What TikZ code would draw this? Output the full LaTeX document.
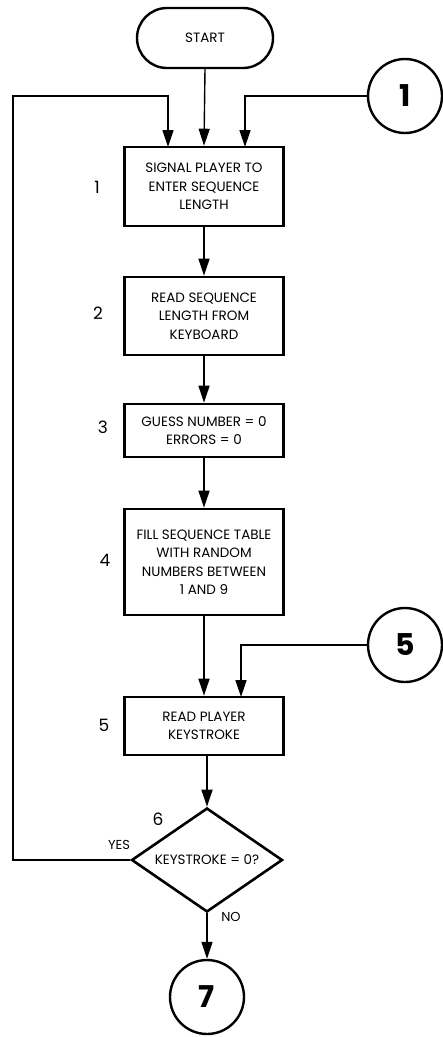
\documentclass[tikz,border=0pt]{standalone}
\usepackage{fontspec}
\setmainfont{Poppins}
\usetikzlibrary{arrows.meta,shapes.geometric,shapes.misc,calc}
\begin{document}
\begin{tikzpicture}[x=1pt,y=-1pt,
  txt/.style={font=\fontsize{13.5}{18.5}\selectfont, align=center},
  procbox/.style={draw, line width=2.6pt, minimum width=159pt, inner sep=0pt, txt},
  conn/.style={draw, circle, line width=2.4pt, minimum size=74pt, inner sep=0pt, font=\fontsize{30}{30}\selectfont\bfseries},
  lbl/.style={font=\fontsize{17}{17}\selectfont, inner sep=0pt},
  small/.style={font=\fontsize{13}{13}\selectfont, inner sep=0pt},
  arr/.style={line width=1.4pt, -{Triangle[length=17pt,width=11pt]}},
  ln/.style={line width=1.4pt}
]
\useasboundingbox (0,0) rectangle (443,1037);

\node[draw, rounded rectangle, line width=2.4pt, minimum width=136pt, minimum height=60pt, inner sep=0pt, txt] (start) at (205,38) {START};

\node[procbox, minimum height=79pt] (b1) at (204,186.5) {SIGNAL PLAYER TO\\ENTER SEQUENCE\\LENGTH};
\node[procbox, minimum height=78pt] (b2) at (204,316) {READ SEQUENCE\\LENGTH FROM\\KEYBOARD};
\node[procbox, minimum height=53pt] (b3) at (204,430.5) {GUESS NUMBER = 0\\ERRORS = 0};
\node[procbox, minimum height=106pt] (b4) at (204,562) {FILL SEQUENCE TABLE\\WITH RANDOM\\NUMBERS BETWEEN\\1 AND 9};
\node[procbox, minimum height=58pt] (b5) at (204,726) {READ PLAYER\\KEYSTROKE};
\node[draw, diamond, line width=2.6pt, aspect=1.45, minimum width=151pt, minimum height=104pt, inner sep=0pt, txt] (dec) at (207,860) {KEYSTROKE = 0?};

\node[conn] (c1) at (405,96) {1};
\node[conn] (c5) at (405,645) {5};
\node[conn] (c7) at (207,997) {7};

\node[lbl] (l1) at (97,187) {1};
\node[lbl] (l2) at (98,313) {2};
\node[lbl] (l3) at (103,427) {3};
\node[lbl] (l4) at (105,560) {4};
\node[lbl] (l5) at (104,725) {5};
\node[lbl] (l6) at (158,819) {6};
\node[small] (yes) at (119,845) {YES};
\node[small] (no) at (231,917) {NO};

\coordinate (in1) at (168,147);
\coordinate (in3) at (245,147);
\coordinate (in5) at (241,697);
\coordinate (L) at (13,96);

\draw[arr] (start.south) -- (b1.north);
\draw[arr] (dec.west) -| (L) -| (in1);
\draw[arr] (c1.west) -| (in3);
\draw[arr] (b1.south) -- (b2.north);
\draw[arr] (b2.south) -- (b3.north);
\draw[arr] (b3.south) -- (b4.north);
\draw[arr] (b4.south -| b5.north) -- (b5.north);
\draw[arr] (c5.west) -| (in5);
\draw[arr] (b5.south -| dec.north) -- (dec.north);
\draw[arr] (dec.south) -- (c7.north);
\end{tikzpicture}
\end{document}
